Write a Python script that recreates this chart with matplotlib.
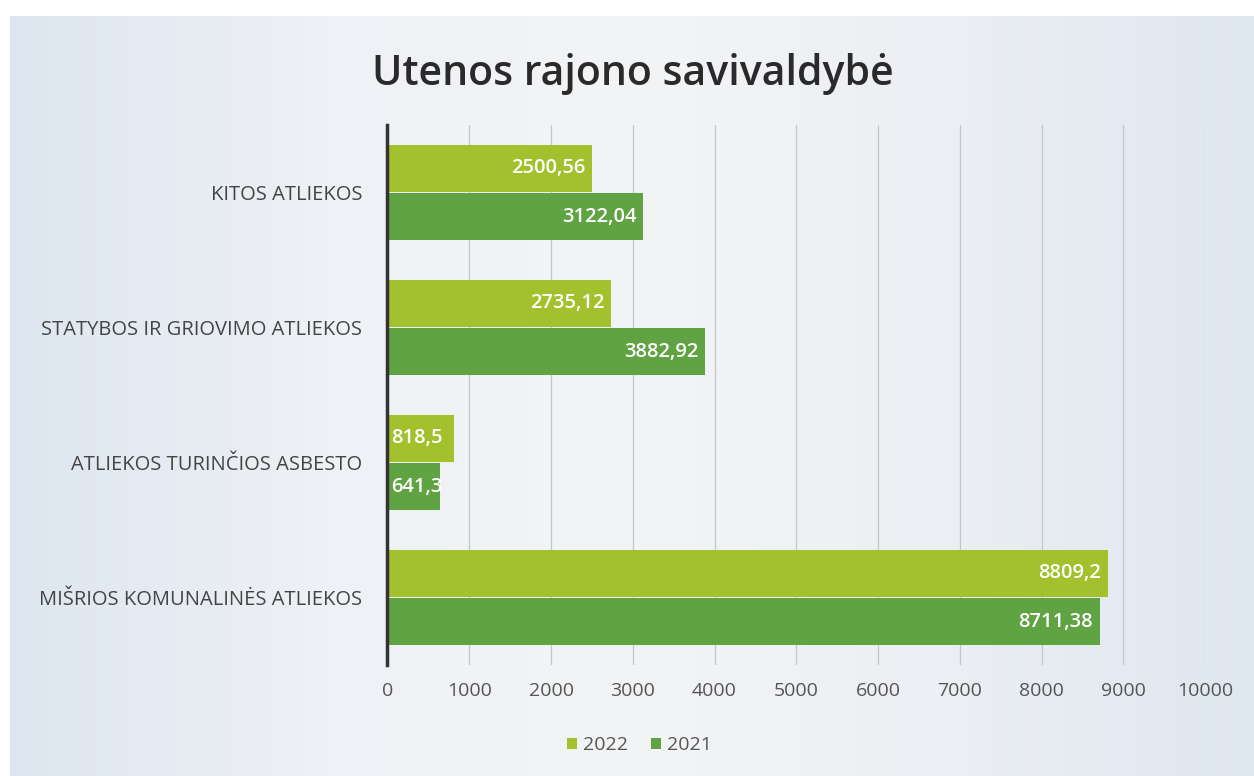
import numpy as np
import matplotlib.pyplot as plt
from matplotlib.colors import LinearSegmentedColormap

categories = ["MIŠRIOS KOMUNALINĖS ATLIEKOS", "ATLIEKOS TURINČIOS ASBESTO",
              "STATYBOS IR GRIOVIMO ATLIEKOS", "KITOS ATLIEKOS"]
values_2022 = [8809.2, 818.5, 2735.12, 2500.56]
values_2021 = [8711.38, 641.3, 3882.92, 3122.04]
labels_2022 = ["8809,2", "818,5", "2735,12", "2500,56"]
labels_2021 = ["8711,38", "641,3", "3882,92", "3122,04"]
xticks = list(range(0, 10001, 1000))

c22 = "#a3c12c"
c21 = "#5fa343"

fig = plt.figure(figsize=(12.54, 7.76), dpi=100)
fig.patch.set_facecolor("white")

# soft scanned-paper background with a gradient
bg = fig.add_axes([0.008, 0.0, 0.992, 0.98], zorder=-10)
grad = LinearSegmentedColormap.from_list("bg", ["#dde6f0", "#eef1f5", "#f3f4f6", "#eceff3", "#dfe7f0"])
bg.imshow(np.linspace(0, 1, 256).reshape(1, -1), aspect="auto", cmap=grad, extent=[0, 1, 0, 1])
bg.axis("off")

ax = fig.add_axes([0.309, 0.143, 0.652, 0.696])
ax.set_facecolor("none")

y = range(len(categories))
h = 0.35
off = 0.18
b22 = ax.barh([i + off for i in y], values_2022, height=h, color=c22, label="2022", zorder=3)
b21 = ax.barh([i - off for i in y], values_2021, height=h, color=c21, label="2021", zorder=3)

for bars, labs in ((b22, labels_2022), (b21, labels_2021)):
    for bar, lab in zip(bars, labs):
        w = bar.get_width()
        yc = bar.get_y() + bar.get_height() / 2
        if w < 1500:
            # short bars: the label starts inside and runs past the end
            ax.text(40, yc, lab, ha="left", va="center", color="white", fontsize=14.5,
                    family="Open Sans", fontweight="semibold", zorder=4)
        else:
            ax.text(w - 80, yc, lab, ha="right", va="center", color="white", fontsize=14.5,
                    family="Open Sans", fontweight="semibold", zorder=4)

ax.set_xlim(0, 10000)
ax.set_ylim(-0.5, 3.5)
ax.set_xticks(xticks)
ax.set_xticklabels([str(t) for t in xticks], family="Open Sans", fontsize=14, color="#555555")
ax.set_yticks(list(y))
ax.set_yticklabels(categories, family="Open Sans", fontsize=14.5, color="#444444")
ax.tick_params(length=0, pad=18)
ax.tick_params(axis="x", pad=12)
ax.grid(axis="x", color="#c3c7cd", linewidth=0.9, zorder=0)
for s in ("top", "right", "bottom"):
    ax.spines[s].set_visible(False)
ax.spines["left"].set_color("#333333")
ax.spines["left"].set_linewidth(2.5)
ax.spines["left"].set_zorder(5)

fig.text(0.297, 0.905, "Utenos rajono savivaldybė", family="Open Sans", fontweight="semibold",
         fontsize=29.5, color="#2a2a2a", ha="left", va="center")

fig.legend(handles=[b22, b21], labels=["2022", "2021"], loc="center", bbox_to_anchor=(0.51, 0.04),
           ncol=2, frameon=False, handlelength=0.5, handleheight=0.5, handletextpad=0.3,
           columnspacing=1.2, prop={"family": "Open Sans", "size": 14}, labelcolor="#555555")

fig.savefig("out.png", dpi=100)
